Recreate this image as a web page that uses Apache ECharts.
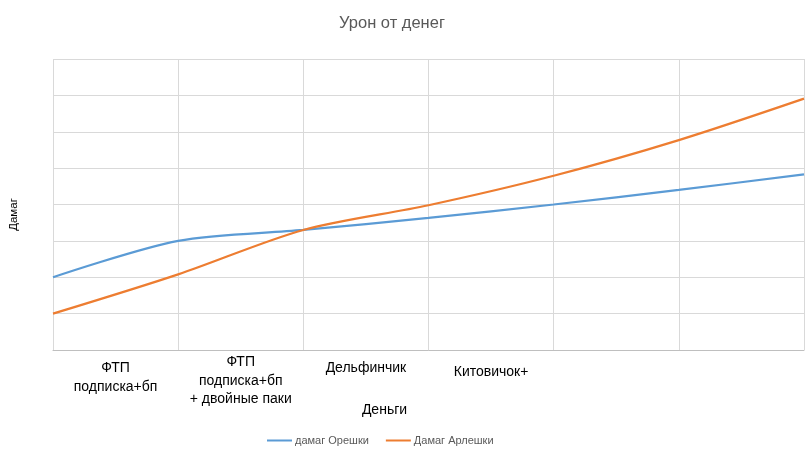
<!DOCTYPE html>
<html>
<head>
<meta charset="utf-8">
<script src="https://cdn.jsdelivr.net/npm/echarts@6/dist/echarts.min.js"></script>
<style>html,body{margin:0;padding:0;background:#fff;}#c{width:810px;height:450px;}</style>
</head>
<body>
<div id="c"></div>
<script>
const categories = ['ФТП\nподписка+бп', 'ФТП\nподписка+бп\n+ двойные паки', 'Дельфинчик', 'Китовичок+', '', ''];
const pointX = [0, 1, 2, 3, 4, 5, 6];
const oreshki = [2.0, 3.0, 3.3, 3.63, 4.0, 4.4, 4.83];
const arleshki = [1.0, 2.08, 3.3, 3.98, 4.79, 5.77, 6.91];
const seriesNames = ['дамаг Орешки', 'Дамаг Арлешки'];

const FONT = 'Liberation Sans, Arial, sans-serif';
const labelTopPad = [6, 0, 6, 10, 0, 0];
const chart = echarts.init(document.getElementById('c'));
chart.setOption({
  backgroundColor: '#fff',
  animation: false,
  title: {
    text: 'Урон от денег',
    left: 387, textAlign: 'center', top: 10,
    textStyle: { fontFamily: FONT, fontSize: 16.5, fontWeight: 'normal', color: '#595959' }
  },
  legend: {
    left: 267, top: 435, padding: 0,
    itemWidth: 25, itemHeight: 2, itemGap: 17,
    icon: 'rect',
    textStyle: { fontFamily: FONT, fontSize: 11, color: '#595959', padding: [0, 0, 0, -2] },
    data: seriesNames
  },
  grid: { left: 53, right: 6, top: 59, bottom: 100, containLabel: false, outerBoundsMode: 'none' },
  xAxis: [
    {
      type: 'value', min: 0, max: 6, interval: 1,
      axisLine: { show: true, lineStyle: { color: '#bfbfbf', width: 1 } },
      axisTick: { show: false }, axisLabel: { show: false },
      splitLine: { show: true, lineStyle: { color: '#d9d9d9', width: 1 } }
    },
    {
      type: 'category', position: 'bottom', boundaryGap: true,
      data: categories.map((c, i) => ({ value: c, textStyle: { padding: [labelTopPad[i], 0, 0, 0] } })),
      axisLine: { show: false }, axisTick: { show: false }, splitLine: { show: false },
      axisLabel: {
        interval: 0, margin: 3, lineHeight: 18.5,
        fontFamily: FONT, fontSize: 14, color: '#000', verticalAlign: 'top'
      },
      name: 'Деньги', nameLocation: 'middle', nameGap: 53, nameMoveOverlap: false,
      nameTextStyle: { fontFamily: FONT, fontSize: 14, color: '#000', padding: [0, 88, 0, 0] }
    }
  ],
  yAxis: {
    type: 'value', min: 0, max: 8, interval: 1,
    axisLine: { show: false }, axisTick: { show: false }, axisLabel: { show: false },
    splitLine: { show: true, lineStyle: { color: '#d9d9d9', width: 1 } },
    name: 'Дамаг', nameLocation: 'middle', nameRotate: 90, nameGap: 33, nameMoveOverlap: false,
    nameTextStyle: { fontFamily: FONT, fontSize: 11.5, color: '#000', padding: [0, 0, 0, -20] }
  },
  series: [
    {
      name: seriesNames[0], type: 'line', xAxisIndex: 0, smooth: 0.3,
      showSymbol: false, symbol: 'none',
      data: pointX.map((x, i) => [x, oreshki[i]]),
      lineStyle: { color: '#5B9BD5', width: 2.25 }, itemStyle: { color: '#5B9BD5' }
    },
    {
      name: seriesNames[1], type: 'line', xAxisIndex: 0, smooth: 0.3,
      showSymbol: false, symbol: 'none',
      data: pointX.map((x, i) => [x, arleshki[i]]),
      lineStyle: { color: '#ED7D31', width: 2.25 }, itemStyle: { color: '#ED7D31' }
    }
  ]
});
</script>
</body>
</html>
